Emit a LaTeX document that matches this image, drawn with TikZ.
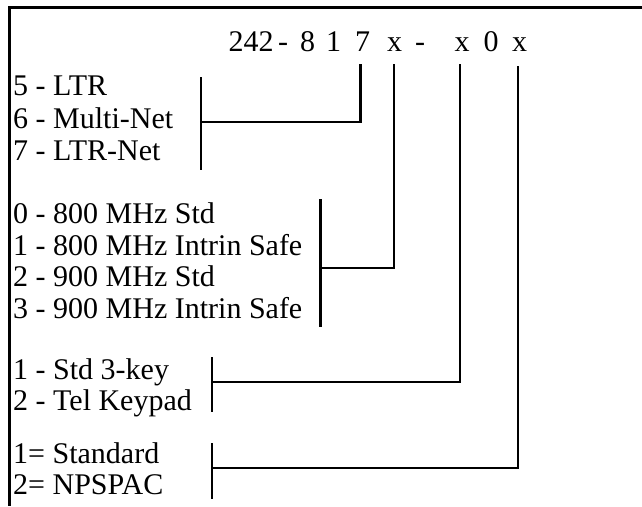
\documentclass[tikz,border=0pt]{standalone}
\usepackage{fontspec}
\setmainfont{Liberation Serif}
\begin{document}
\begin{tikzpicture}[x=1pt,y=-1pt,
  lbl/.style={anchor=base west,inner sep=0pt,font=\fontsize{30pt}{32pt}\selectfont},
  ttl/.style={anchor=base,inner sep=0pt,font=\fontsize{30pt}{32pt}\selectfont},
  wire/.style={line width=2.6pt,line cap=butt,line join=miter},
  thinwire/.style={line width=1.3pt}]
\useasboundingbox (0,0) rectangle (642,506);
% frame
\coordinate (fTR) at (642,7.5);
\coordinate (fTL) at (9.5,7.5);
\coordinate (fBL) at (9.5,506);
\draw[wire] (fTR) -- (fTL) -- (fBL);
% title glyphs
\node[ttl] (t1) at (251,51) {242};
\node[ttl] (t2) at (283,51) {-};
\node[ttl] (t3) at (307.5,51) {8};
\node[ttl] (t4) at (333.5,51) {1};
\node[ttl] (t5) at (362.5,51) {7};
\node[ttl] (t6) at (394.5,51) {x};
\node[ttl] (t7) at (420,51) {-};
\node[ttl] (t8) at (462,51) {x};
\node[ttl] (t9) at (491,51) {0};
\node[ttl] (t10) at (519.5,51) {x};
% labels
\node[lbl] (g1a) at (13,95) {5 - LTR};
\node[lbl] (g1b) at (13,128) {6 - Multi-Net};
\node[lbl] (g1c) at (13,160) {7 - LTR-Net};
\node[lbl] (g2a) at (13,223.5) {0 - 800 MHz Std};
\node[lbl] (g2b) at (13,255) {1 - 800 MHz Intrin Safe};
\node[lbl] (g2c) at (13,286.5) {2 - 900 MHz Std};
\node[lbl] (g2d) at (13,318) {3 - 900 MHz Intrin Safe};
\node[lbl] (g3a) at (13,379) {1 - Std 3-key};
\node[lbl] (g3b) at (13,410) {2 - Tel Keypad};
\node[lbl] (g4a) at (13,463) {1= Standard};
\node[lbl] (g4b) at (13,494) {2= NPSPAC};
% connector end points
\coordinate (a0) at (360.7,64);
\coordinate (a1) at (360.7,122);
\coordinate (a2) at (201,122);
\coordinate (b1t) at (201,77);
\coordinate (b1b) at (201,170);
\coordinate (c0) at (394,64);
\coordinate (c1) at (394,268);
\coordinate (c2) at (320.7,268);
\coordinate (b2t) at (320.7,199);
\coordinate (b2b) at (320.7,327);
\coordinate (d0) at (460,64);
\coordinate (d1) at (460,382);
\coordinate (d2) at (212,382);
\coordinate (b3t) at (212,357);
\coordinate (b3b) at (212,412);
\coordinate (e0) at (518,66);
\coordinate (e1) at (518,468);
\coordinate (e2) at (212,468);
\coordinate (b4t) at (212,443);
\coordinate (b4b) at (212,499);
% connectors
\draw[wire] (a0) -- (a1) -- (a2);
\draw[wire] (b1t) -- (b1b);
\draw[wire] (c0) -- (c1) -- (c2);
\draw[wire] (b2t) -- (b2b);
\draw[wire] (d0) -- (d1) -- (d2);
\draw[thinwire] (b3t) -- (b3b);
\draw[wire] (e0) -- (e1) -- (e2);
\draw[wire] (b4t) -- (b4b);
\end{tikzpicture}
\end{document}
